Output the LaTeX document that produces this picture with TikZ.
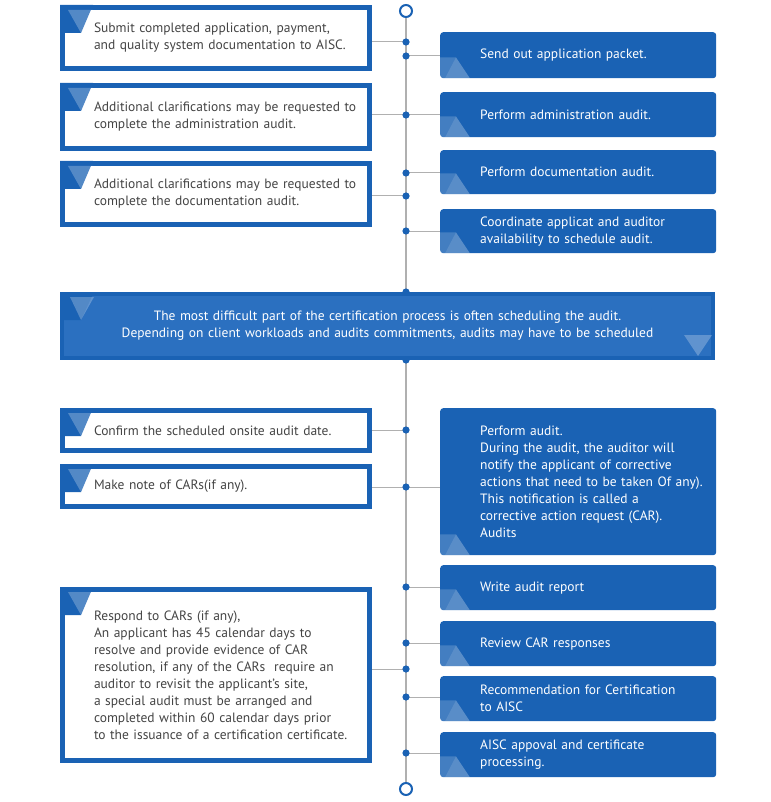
\documentclass[tikz,border=0pt]{standalone}
\usepackage{fontspec}
\setmainfont{PT Sans}
\usepackage{tikz}
\definecolor{aiscblue}{RGB}{26,98,180}
\definecolor{widefill}{RGB}{43,112,192}
\definecolor{textgray}{RGB}{68,68,68}
\definecolor{linegray}{RGB}{176,176,176}
\newcommand{\boxfont}{\fontsize{13.5}{17}\selectfont}
\tikzstyle{leftbox} = [rectangle, draw=aiscblue, line width=5pt, fill=white,
anchor=north west, text width=291pt, inner xsep=8pt, inner ysep=0pt, align=left,
text=textgray, font=\boxfont, execute at begin node={\leftskip=23.5pt}]
\tikzstyle{rightbox} = [rectangle, fill=aiscblue, rounded corners=3pt,
anchor=north west, text width=260pt, inner xsep=8pt, inner ysep=0pt, align=left,
text=white, font=\boxfont, execute at begin node={\leftskip=32pt}]
\tikzstyle{widebox} = [rectangle, draw=aiscblue, fill=widefill, line width=4pt,
anchor=north west, text width=651pt, inner xsep=0pt, inner ysep=0pt, align=center,
text=white, font=\boxfont, minimum height=64pt]
\tikzstyle{endcircle} = [circle, draw=aiscblue, line width=2pt, fill=white,
minimum size=12pt, inner sep=0pt]
\tikzstyle{timeline} = [draw=linegray, line width=1.5pt]
\tikzstyle{link} = [draw=linegray, line width=1pt]

\begin{document}
\begin{tikzpicture}[x=1pt, y=-1pt]
	\useasboundingbox (0,0) rectangle (770,802);
	
	% Timeline
	\node [endcircle] (top) at (406,11) {};
	\node [endcircle] (bot) at (406,789) {};
	\path [timeline] (top) -- (bot);
	
	% Left column
	\node [leftbox, minimum height=61pt] (l1) at (60,5)
	{Submit completed application, payment,\\and quality system documentation to AISC.};
	\node [leftbox, minimum height=63pt] (l2) at (60,83)
	{Additional clarifications may be requested to\\complete the administration audit.};
	\node [leftbox, minimum height=61pt] (l3) at (60,161)
	{Additional clarifications may be requested to\\complete the documentation audit.};
	\node [leftbox, minimum height=40pt] (l4) at (60,408)
	{Confirm the scheduled onsite audit date.};
	\node [leftbox, minimum height=40pt] (l5) at (60,464)
	{Make note of CARs(if any).};
	\node [leftbox, minimum height=171pt] (l6) at (60,587)
	{Respond to CARs (if any),\\An applicant has 45 calendar days to\\resolve and provide evidence of CAR\\resolution, if any of the CARs\ \ require an\\auditor to revisit the applicant’s site,\\a special audit must be arranged and\\completed within 60 calendar days prior\\to the issuance of a certification certificate.};
	
	% Right column
	\node [rightbox, minimum height=46pt] (r1) at (440,32) {Send out application packet.};
	\node [rightbox, minimum height=45pt] (r2) at (440,92) {Perform administration audit.};
	\node [rightbox, minimum height=44pt] (r3) at (440,150) {Perform documentation audit.};
	\node [rightbox, minimum height=44pt] (r4) at (440,209)
	{Coordinate applicat and auditor\\availability to schedule audit.};
	\node [rightbox, minimum height=147pt] (r5) at (440,408)
	{Perform audit.\\During the audit, the auditor will\\notify the applicant of corrective\\actions that need to be taken Of any).\\This notification is called a\\corrective action request (CAR).\\Audits};
	\node [rightbox, minimum height=45pt] (r6) at (440,565) {Write audit report};
	\node [rightbox, minimum height=45pt] (r7) at (440,621) {Review CAR responses};
	\node [rightbox, minimum height=45pt] (r8) at (440,676)
	{Recommendation for Certification\\to AISC};
	\node [rightbox, minimum height=45pt] (r9) at (440,732)
	{AISC appoval and certificate\\processing.};
	
	% Wide note
	\node [widebox] (w) at (60,292)
	{The most difficult part of the certification process is often scheduling the audit.\\Depending on client workloads and audits commitments, audits may have to be scheduled};
	
	% Corner marks
	\foreach \b in {l1,l2,l3,l4,l5,l6} {
		\fill [aiscblue] (\b.north west) -- ++(33,0) -- ++(-12,28) -- ++(-21,0) -- cycle;
		\fill [white, opacity=0.25] ([shift={(8,5)}]\b.north west) -- ++(25,0) -- ++(-12,23) -- cycle;
	}
	\foreach \b in {r1,r2,r3,r4,r5,r6,r7,r8,r9} {
		\begin{scope}
			\clip [rounded corners=3pt] (\b.south west) rectangle (\b.north east);
			\fill [white, opacity=0.18] (\b.south west) -- ++(0,-21) -- ++(16,0) -- ++(14,21) -- cycle;
			\fill [white, opacity=0.12] ([shift={(16,-21)}]\b.south west) -- ++(14,21) -- ++(-25,0) -- cycle;
		\end{scope}
	}
	\fill [aiscblue] (w.north west) -- ++(34,0) -- ++(-13,28) -- ++(-21,0) -- cycle;
	\fill [white, opacity=0.25] ([shift={(10,5)}]w.north west) -- ++(24,0) -- ++(-13,23) -- cycle;
	\fill [white, opacity=0.25] ([shift={(-31,-25)}]w.south east) -- ++(28,0) -- ++(-14,21) -- cycle;
	
	% Points on the timeline
	\coordinate (d1) at (406,42);
	\coordinate (d2) at (406,56);
	\coordinate (d3) at (406,115);
	\coordinate (d4) at (406,173);
	\coordinate (d5) at (406,196);
	\coordinate (d6) at (406,231);
	\coordinate (d7) at (406,430);
	\coordinate (d8) at (406,487);
	\coordinate (d9) at (406,587);
	\coordinate (d10) at (406,643);
	\coordinate (d11) at (406,669);
	\coordinate (d12) at (406,697);
	\coordinate (d13) at (406,753);
	\coordinate (d14) at (top |- w.north);
	\coordinate (d15) at (top |- w.south);
	
	% Links
	\path [link] (d1) -- (d1 -| l1.east);
	\path [link] (d2) -- (d2 -| r1.west);
	\path [link] (d3 -| l2.east) -- (d3 -| r2.west);
	\path [link] (d4) -- (d4 -| r3.west);
	\path [link] (d5) -- (d5 -| l3.east);
	\path [link] (d6) -- (d6 -| r4.west);
	\path [link] (d7) -- (d7 -| l4.east);
	\path [link] (d8 -| l5.east) -- (d8 -| r5.west);
	\path [link] (d9) -- (d9 -| r6.west);
	\path [link] (d10) -- (d10 -| r7.west);
	\path [link] (d11) -- (d11 -| l6.east);
	\path [link] (d12) -- (d12 -| r8.west);
	\path [link] (d13) -- (d13 -| r9.west);
	
	\foreach \i in {1,...,15} {
		\fill [aiscblue] (d\i) circle (3.6pt);
	}
	
\end{tikzpicture}
\end{document}
